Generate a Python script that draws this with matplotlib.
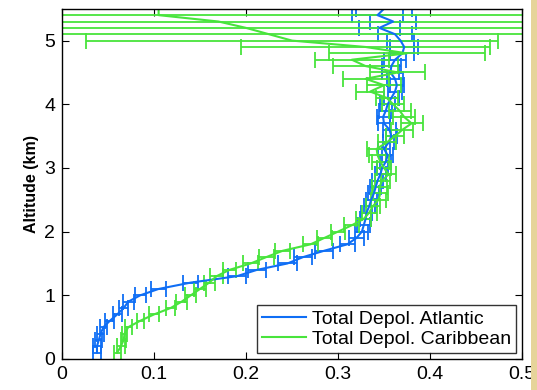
import numpy as np
import matplotlib.pyplot as plt
from matplotlib.lines import Line2D
from matplotlib.patches import Rectangle

plt.rcParams['font.family'] = ['Liberation Sans', 'DejaVu Sans']

# Atlantic profile: altitude (km), total depolarization, error
alt_atl = [0.1, 0.2, 0.3, 0.4, 0.5, 0.6, 0.7, 0.8, 0.9, 1.0,
           1.1, 1.2, 1.3, 1.4, 1.5, 1.6, 1.7, 1.8, 1.9, 2.0,
           2.1, 2.2, 2.3, 2.4, 2.5, 2.6, 2.7, 2.8, 2.9, 3.0,
           3.1, 3.2, 3.3, 3.4, 3.5, 3.6, 3.7, 3.8, 3.9, 4.0,
           4.1, 4.2, 4.3, 4.4, 4.5, 4.6, 4.7, 4.8, 4.9, 5.0,
           5.1, 5.2, 5.3, 5.4, 5.5]
dep_atl = [0.038, 0.038, 0.040, 0.042, 0.045, 0.052, 0.060, 0.067, 0.072, 0.085,
           0.105, 0.140, 0.190, 0.212, 0.245, 0.262, 0.285, 0.310, 0.320, 0.326,
           0.328, 0.330, 0.331, 0.334, 0.336, 0.339, 0.341, 0.343, 0.346, 0.348,
           0.352, 0.354, 0.350, 0.355, 0.358, 0.356, 0.350, 0.349, 0.352, 0.354,
           0.358, 0.362, 0.364, 0.362, 0.357, 0.358, 0.362, 0.370, 0.372, 0.368,
           0.362, 0.345, 0.360, 0.343, 0.350]
err_atl = [0.004, 0.004, 0.004, 0.004, 0.004, 0.005, 0.005, 0.005, 0.006, 0.006,
           0.008, 0.008, 0.010, 0.010, 0.010, 0.010, 0.010, 0.008, 0.008, 0.007,
           0.007, 0.006, 0.006, 0.006, 0.006, 0.006, 0.006, 0.006, 0.006, 0.006,
           0.006, 0.006, 0.006, 0.006, 0.006, 0.007, 0.007, 0.007, 0.007, 0.008,
           0.008, 0.008, 0.008, 0.009, 0.009, 0.010, 0.012, 0.013, 0.015, 0.015,
           0.018, 0.022, 0.025, 0.028, 0.030]

# Caribbean profile
alt_car = [0.1, 0.2, 0.3, 0.4, 0.5, 0.6, 0.7, 0.8, 0.9, 1.0,
           1.1, 1.2, 1.3, 1.4, 1.5, 1.6, 1.7, 1.8, 1.9, 2.0,
           2.1, 2.2, 2.3, 2.4, 2.5, 2.6, 2.7, 2.8, 2.9, 3.0,
           3.1, 3.2, 3.3, 3.4, 3.5, 3.6, 3.7, 3.8, 3.9, 4.0,
           4.1, 4.2, 4.3, 4.4, 4.5, 4.6, 4.7, 4.8, 4.9, 5.0,
           5.1, 5.2, 5.3, 5.4, 5.5]
dep_car = [0.060, 0.064, 0.067, 0.068, 0.072, 0.085, 0.100, 0.118, 0.130, 0.140,
           0.150, 0.160, 0.168, 0.182, 0.205, 0.222, 0.240, 0.270, 0.285, 0.300,
           0.315, 0.328, 0.334, 0.338, 0.344, 0.346, 0.345, 0.348, 0.355, 0.350,
           0.346, 0.343, 0.342, 0.353, 0.362, 0.370, 0.380, 0.372, 0.367, 0.360,
           0.353, 0.335, 0.350, 0.330, 0.365, 0.330, 0.315, 0.375, 0.330, 0.250,
           0.225, 0.200, 0.170, 0.105, 0.105]
err_car = [0.004, 0.004, 0.003, 0.003, 0.004, 0.004, 0.005, 0.005, 0.006, 0.006,
           0.006, 0.006, 0.007, 0.007, 0.008, 0.008, 0.008, 0.008, 0.008, 0.008,
           0.008, 0.008, 0.008, 0.008, 0.008, 0.008, 0.008, 0.008, 0.008, 0.008,
           0.009, 0.009, 0.010, 0.010, 0.010, 0.012, 0.012, 0.012, 0.012, 0.012,
           0.012, 0.015, 0.018, 0.025, 0.030, 0.035, 0.040, 0.085, 0.135, 0.224,
           0.350, 0.400, 0.450, 0.500, 0.600]

fig = plt.figure(figsize=(5.37, 3.90), dpi=100)
ax = fig.add_axes([0.1155, 0.0795, 0.8565, 0.898])

blue = '#0f6ef5'
green = '#48e43c'
ax.errorbar(dep_atl, alt_atl, xerr=err_atl, color=blue, lw=1.5,
            elinewidth=1.3, capsize=6, capthick=1.3)
ax.errorbar(dep_car, alt_car, xerr=err_car, color=green, lw=1.5,
            elinewidth=1.3, capsize=6, capthick=1.3)

ax.set_xlim(0, 0.5)
ax.set_ylim(0, 5.5)
ax.set_xticks([0, 0.1, 0.2, 0.3, 0.4, 0.5])
ax.set_xticklabels(['0', '0.1', '0.2', '0.3', '0.4', '0.5'])
ax.set_yticks([0, 1, 2, 3, 4, 5])
ax.tick_params(direction='in', top=True, right=True, labelsize=14,
               length=5, width=0.8, pad=5)
for s in ax.spines.values():
    s.set_linewidth(1.0)
ax.set_ylabel('Altitude (km)', fontsize=11.5, fontweight='bold', labelpad=4)

handles = [Line2D([], [], color=blue, lw=1.5),
           Line2D([], [], color=green, lw=1.5)]
labels = ['Total Depol. Atlantic', 'Total Depol. Caribbean']
leg = ax.legend(handles, labels, loc='lower right', fontsize=14,
                frameon=True, fancybox=False, edgecolor='black',
                borderpad=0.25, handlelength=2.3, handletextpad=0.3,
                labelspacing=0.15, borderaxespad=0.3)
leg.get_frame().set_linewidth(1.0)

# tan strip along the right edge
fig.patches.append(Rectangle((0.989, 0), 0.011, 1, transform=fig.transFigure,
                             facecolor='#e6d49a', edgecolor='none', zorder=5))

fig.savefig('out.png', dpi=100)
